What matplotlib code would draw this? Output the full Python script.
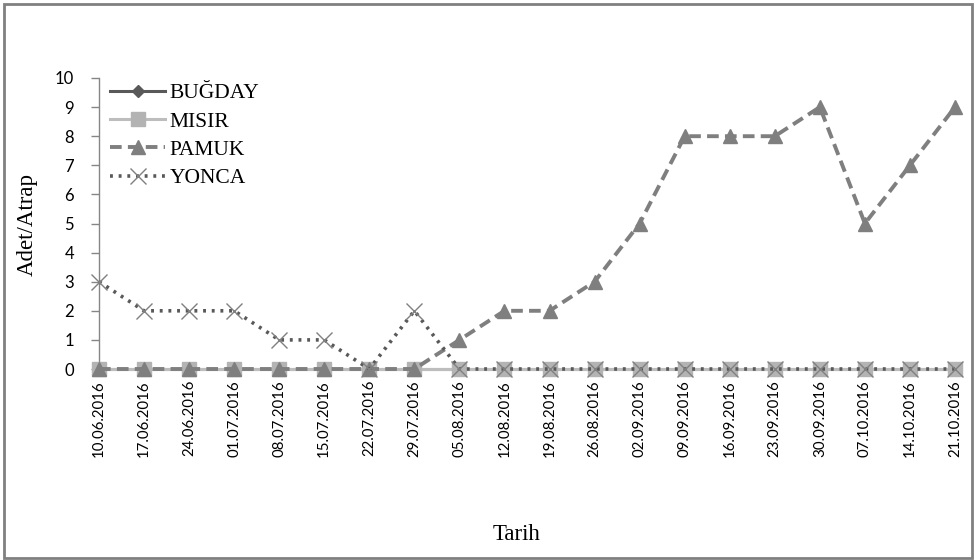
import matplotlib
matplotlib.use("Agg")
import matplotlib.pyplot as plt
from matplotlib.patches import Rectangle

dates = ["10.06.2016", "17.06.2016", "24.06.2016", "01.07.2016", "08.07.2016",
         "15.07.2016", "22.07.2016", "29.07.2016", "05.08.2016", "12.08.2016",
         "19.08.2016", "26.08.2016", "02.09.2016", "09.09.2016", "16.09.2016",
         "23.09.2016", "30.09.2016", "07.10.2016", "14.10.2016", "21.10.2016"]
bugday = [0] * 20
misir = [0] * 20
pamuk = [0, 0, 0, 0, 0, 0, 0, 0, 1, 2, 2, 3, 5, 8, 8, 8, 9, 5, 7, 9]
yonca = [3, 2, 2, 2, 1, 1, 0, 2, 0, 0, 0, 0, 0, 0, 0, 0, 0, 0, 0, 0]
yticks = list(range(0, 11))

serif = "Liberation Serif"
sans = "Lato"

fig = plt.figure(figsize=(9.75, 5.6), dpi=100)
W, H = 975, 560
ax = fig.add_axes([99 / W, 1 - 369 / H, (955 - 99) / W, (369 - 78) / H])

x = list(range(len(dates)))
ax.plot(x, bugday, color="#595959", lw=2.2, marker="D", ms=6,
        mfc="#595959", mec="#595959", label="BUĞDAY", clip_on=False, zorder=3)
ax.plot(x, misir, color="#BDBDBD", lw=2.2, marker="s", ms=10,
        mfc="#B3B3B3", mec="#B3B3B3", label="MISIR", clip_on=False, zorder=4)
ax.plot(x, pamuk, color="#7F7F7F", lw=2.8, ls=(0, (3, 1.6)), marker="^", ms=10,
        mfc="#7F7F7F", mec="#7F7F7F", label="PAMUK", clip_on=False, zorder=5)
ax.plot(x, yonca, color="#595959", lw=2.6, ls=(0, (0.8, 1.6)), marker="x", ms=11,
        mew=1.0, mfc="#808080", mec="#808080", label="YONCA", clip_on=False, zorder=6)

ax.set_xlim(0, 19)
ax.set_ylim(0, 10)
ax.set_yticks(yticks)
ax.set_yticklabels([str(v) for v in yticks], fontfamily=sans, fontsize=12)
ax.set_xticks(x)
ax.set_xticklabels(dates, rotation=90, fontfamily=sans, fontsize=10.8)
ax.tick_params(axis="y", length=6, color="#868686", width=1, pad=12)
ax.tick_params(axis="x", length=0, pad=8)

for side in ["top", "right"]:
    ax.spines[side].set_visible(False)
ax.spines["left"].set_color("#868686")
ax.spines["bottom"].set_color("#B0B0B0")
ax.spines["left"].set_linewidth(1)
ax.spines["bottom"].set_linewidth(1)

fig.text(27 / W, 1 - 225 / H, "Adet/Atrap", fontfamily=serif, fontsize=16.5,
         rotation=90, ha="center", va="center")
fig.text(517 / W, 1 - 535 / H, "Tarih", fontfamily=serif, fontsize=16.5,
         ha="center", va="center")

leg = ax.legend(loc="upper left", bbox_to_anchor=(0.006, 1.0), frameon=False,
                prop={"family": serif, "size": 15.5}, handlelength=2.6,
                handletextpad=0.2, labelspacing=0.38, borderaxespad=0.0,
                borderpad=0.25)

fig.add_artist(Rectangle((4 / W, 2 / H), (968 / W), (554 / H), transform=fig.transFigure,
                         fill=False, edgecolor="#808080", lw=2))

fig.savefig("out.png", dpi=100)
